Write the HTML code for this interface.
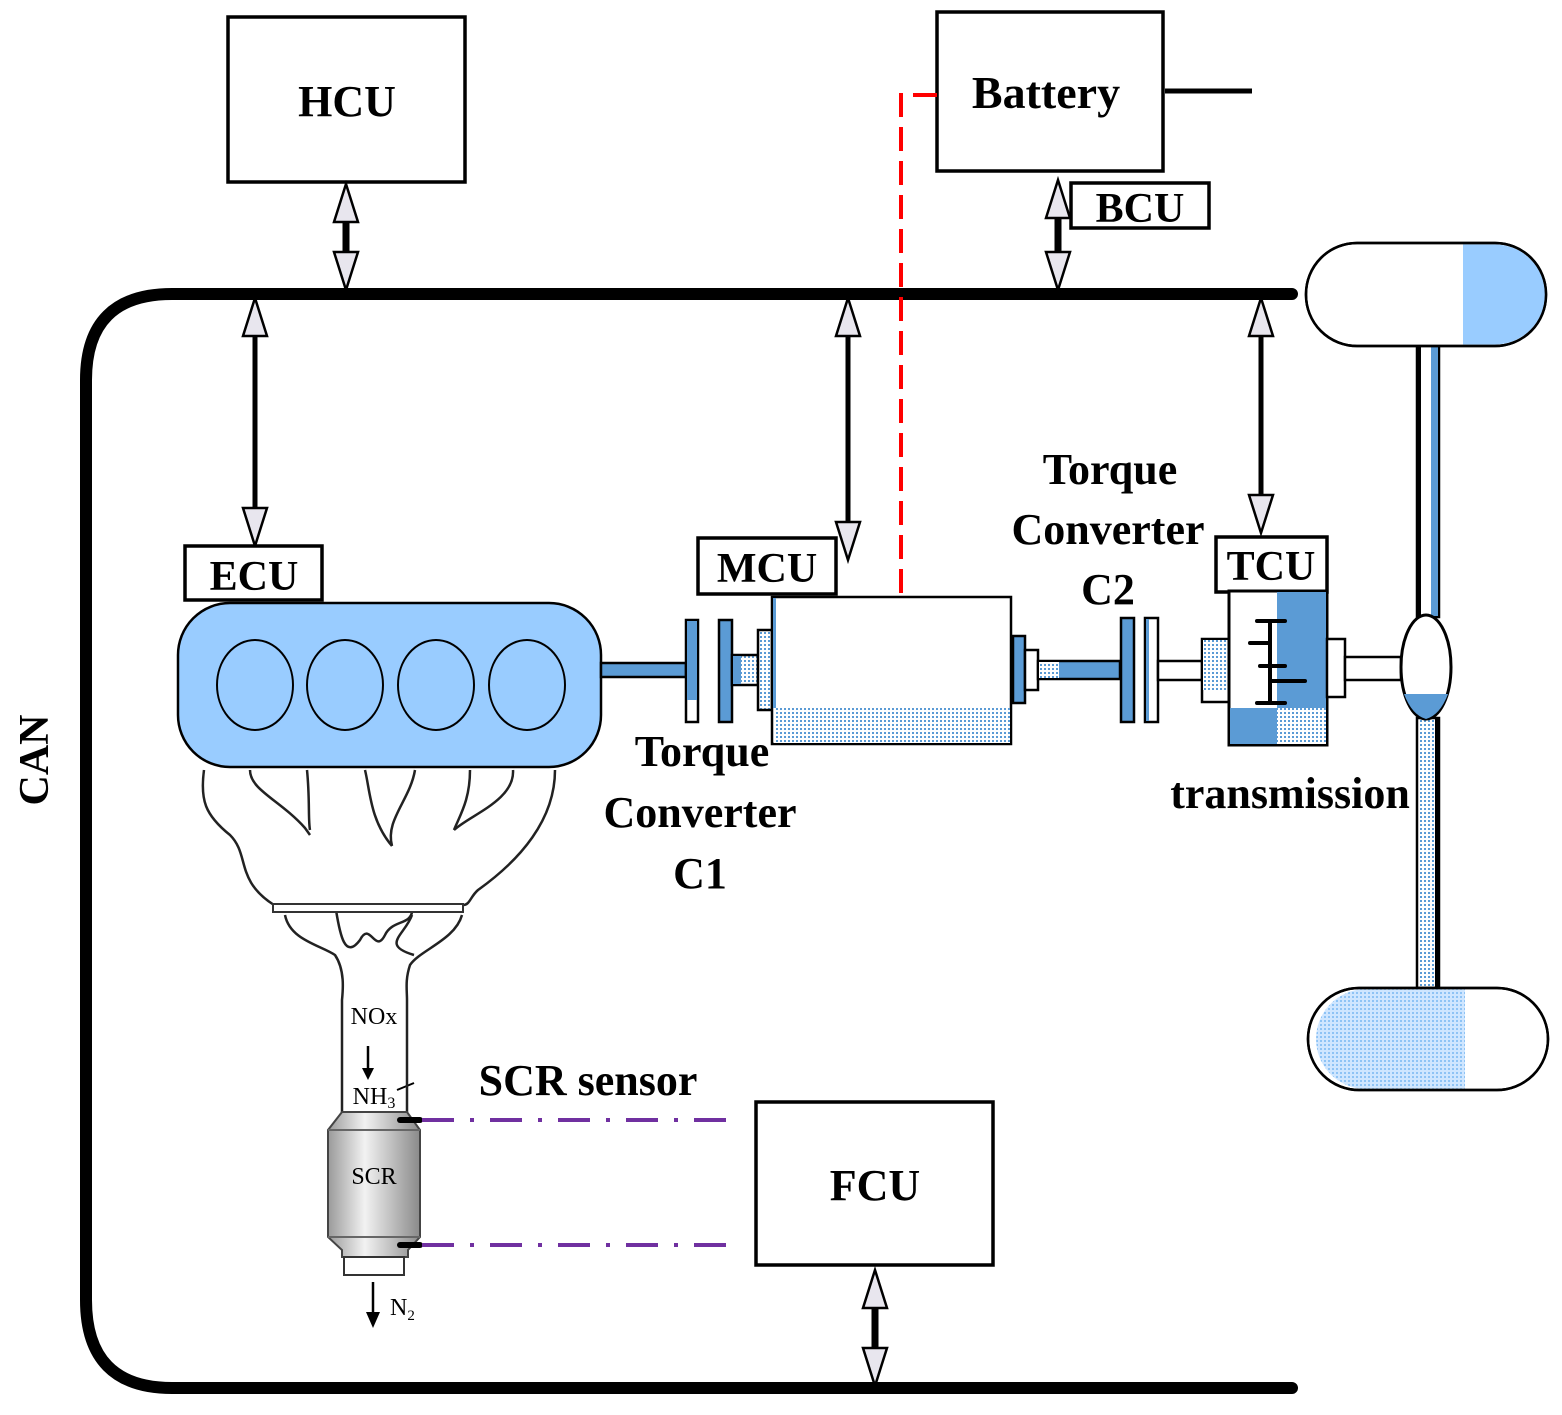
<!DOCTYPE html>
<html><head><meta charset="utf-8"><style>
html,body{margin:0;padding:0;background:#fff;}
svg{display:block;}
text{font-family:"Liberation Serif",serif;font-weight:bold;fill:#000;}
</style></head><body>
<svg width="1562" height="1415" viewBox="0 0 1562 1415" xmlns="http://www.w3.org/2000/svg">
<defs>
<pattern id="dot" width="4" height="4" patternUnits="userSpaceOnUse"><rect width="4" height="4" fill="#fff"/><rect width="2" height="2" fill="#5b9bd5"/></pattern>
<pattern id="dotl" width="4" height="4" patternUnits="userSpaceOnUse"><rect width="4" height="4" fill="#cfe6ff"/><rect width="2" height="2" fill="#8ec3f5"/></pattern>
<linearGradient id="scr" x1="0" x2="1"><stop offset="0" stop-color="#9a9a9a"/><stop offset="0.4" stop-color="#f2f2f2"/><stop offset="1" stop-color="#8a8a8a"/></linearGradient>
<g id="au"><polygon points="0,0 -12,38 12,38" fill="#e8e6ee" stroke="#000" stroke-width="2.5"/></g>
<g id="ad"><polygon points="0,0 -12,-38 12,-38" fill="#e8e6ee" stroke="#000" stroke-width="2.5"/></g>
</defs>

<!-- CAN bus -->
<path d="M1292,294 L172,294 Q86,294 86,380 L86,1300 Q86,1388 172,1388 L1292,1388" fill="none" stroke="#000" stroke-width="12" stroke-linecap="round"/>
<text x="48" y="760" font-size="42" transform="rotate(-90 48 760)" text-anchor="middle">CAN</text>

<!-- HCU -->
<rect x="228" y="17" width="237" height="165" fill="#fff" stroke="#000" stroke-width="3.5"/>
<text x="347" y="116" font-size="44" text-anchor="middle">HCU</text>
<line x1="346" y1="215" x2="346" y2="255" stroke="#000" stroke-width="7"/>
<use href="#au" x="346" y="184"/><use href="#ad" x="346" y="290"/>

<!-- Battery -->
<rect x="937" y="12" width="226" height="159" fill="#fff" stroke="#000" stroke-width="3.5"/>
<text x="1046" y="108" font-size="46" text-anchor="middle">Battery</text>
<line x1="1165" y1="91" x2="1252" y2="91" stroke="#000" stroke-width="5"/>
<path d="M937,95 L901,95 L901,600" fill="none" stroke="#f00" stroke-width="4" stroke-dasharray="24,10"/>
<rect x="1071" y="183" width="138" height="45" fill="#fff" stroke="#000" stroke-width="3.5"/>
<text x="1140" y="222" font-size="42" text-anchor="middle">BCU</text>
<line x1="1058" y1="215" x2="1058" y2="255" stroke="#000" stroke-width="7"/>
<use href="#au" x="1058" y="180"/><use href="#ad" x="1058" y="290"/>

<!-- ECU arrow and box -->
<line x1="255" y1="330" x2="255" y2="512" stroke="#000" stroke-width="5"/>
<use href="#au" x="255" y="298"/><use href="#ad" x="255" y="546"/>
<rect x="185" y="546" width="137" height="54" fill="#fff" stroke="#000" stroke-width="3.5"/>
<text x="254" y="590" font-size="42" text-anchor="middle">ECU</text>

<!-- MCU -->
<line x1="848" y1="330" x2="848" y2="525" stroke="#000" stroke-width="5"/>
<use href="#au" x="848" y="298"/><use href="#ad" x="848" y="560"/>
<rect x="698" y="538" width="138" height="56" fill="#fff" stroke="#000" stroke-width="3.5"/>
<text x="767" y="582" font-size="42" text-anchor="middle">MCU</text>

<!-- TCU -->
<line x1="1261" y1="330" x2="1261" y2="498" stroke="#000" stroke-width="5"/>
<use href="#au" x="1261" y="298"/><use href="#ad" x="1261" y="533"/>
<rect x="1216" y="537" width="111" height="55" fill="#fff" stroke="#000" stroke-width="3.5"/>
<text x="1271" y="580" font-size="42" text-anchor="middle">TCU</text>

<!-- FCU -->
<rect x="756" y="1102" width="237" height="163" fill="#fff" stroke="#000" stroke-width="3.5"/>
<text x="875" y="1200" font-size="44" text-anchor="middle">FCU</text>
<line x1="875" y1="1305" x2="875" y2="1350" stroke="#000" stroke-width="7"/>
<use href="#au" x="875" y="1270"/><use href="#ad" x="875" y="1386"/>

<!-- Engine -->
<rect x="178" y="603" width="423" height="164" rx="52" fill="#99ccff" stroke="#000" stroke-width="2.5"/>
<ellipse cx="255" cy="685" rx="38" ry="45" fill="none" stroke="#000" stroke-width="2"/>
<ellipse cx="345" cy="685" rx="38" ry="45" fill="none" stroke="#000" stroke-width="2"/>
<ellipse cx="436" cy="685" rx="38" ry="45" fill="none" stroke="#000" stroke-width="2"/>
<ellipse cx="527" cy="685" rx="38" ry="45" fill="none" stroke="#000" stroke-width="2"/>

<!-- Shaft & C1 -->
<rect x="601" y="663" width="85" height="14" fill="#5b9bd5" stroke="#000" stroke-width="2.5"/>
<rect x="686" y="620" width="12" height="102" fill="#fff" stroke="#000" stroke-width="2.5"/>
<rect x="687" y="621" width="10" height="79" fill="#5b9bd5"/>
<rect x="719" y="620" width="13" height="102" fill="#5b9bd5" stroke="#000" stroke-width="2.5"/>
<rect x="732" y="655" width="26" height="30" fill="url(#dot)" stroke="#000" stroke-width="2.5"/>
<rect x="733" y="656" width="8" height="28" fill="#5b9bd5"/>
<rect x="758" y="630" width="14" height="80" fill="url(#dot)" stroke="#000" stroke-width="2.5"/>

<!-- Motor -->
<rect x="772" y="597" width="239" height="147" fill="#fff" stroke="#000" stroke-width="2.5"/>
<rect x="773" y="598" width="3" height="110" fill="#5b9bd5"/>
<rect x="774" y="708" width="236" height="35" fill="url(#dot)"/>
<rect x="1013" y="636" width="12" height="67" fill="#5b9bd5" stroke="#000" stroke-width="2.5"/>
<rect x="1025" y="650" width="13" height="40" fill="#fff" stroke="#000" stroke-width="2.5"/>
<rect x="1038" y="661" width="82" height="18" fill="#5b9bd5" stroke="#000" stroke-width="2.5"/>
<rect x="1039" y="662" width="20" height="16" fill="url(#dot)"/>

<!-- C2 -->
<rect x="1121" y="618" width="13" height="104" fill="#5b9bd5" stroke="#000" stroke-width="2.5"/>
<rect x="1145" y="618" width="13" height="104" fill="#fff" stroke="#000" stroke-width="2.5"/>
<rect x="1146" y="619" width="3" height="102" fill="#5b9bd5"/>
<rect x="1158" y="661" width="44" height="19" fill="#fff" stroke="#000" stroke-width="2.5"/>
<rect x="1202" y="639" width="27" height="63" fill="#fff" stroke="#000" stroke-width="2.5"/>
<rect x="1203" y="640" width="25" height="50" fill="url(#dot)"/>

<!-- Transmission -->
<rect x="1229" y="591" width="98" height="154" fill="#fff" stroke="#000" stroke-width="3"/>
<rect x="1277" y="592" width="49" height="116" fill="#5b9bd5"/>
<rect x="1277" y="708" width="49" height="36" fill="url(#dot)"/>
<rect x="1230" y="708" width="47" height="36" fill="#5b9bd5"/>
<g stroke="#000" stroke-width="4" stroke-linecap="round">
<line x1="1270" y1="621" x2="1270" y2="703"/>
<line x1="1257" y1="621" x2="1285" y2="621"/>
<line x1="1250" y1="643" x2="1270" y2="643"/>
<line x1="1260" y1="666" x2="1285" y2="666"/>
<line x1="1270" y1="681" x2="1305" y2="681"/>
<line x1="1257" y1="703" x2="1285" y2="703"/>
</g>
<rect x="1327" y="639" width="18" height="58" fill="#fff" stroke="#000" stroke-width="2.5"/>
<rect x="1345" y="657" width="56" height="23" fill="#fff" stroke="#000" stroke-width="2.5"/>

<!-- Axles -->
<rect x="1417" y="345" width="22" height="272" fill="#fff" stroke="#000" stroke-width="2.5"/>
<rect x="1418" y="346" width="3" height="270" fill="#000"/>
<rect x="1431" y="346" width="7" height="270" fill="#5b9bd5"/>
<rect x="1417" y="718" width="22" height="270" fill="url(#dot)" stroke="#000" stroke-width="2.5"/>
<rect x="1435" y="718" width="4" height="270" fill="#000"/>
<ellipse cx="1426" cy="667" rx="25" ry="52" fill="#fff" stroke="#000" stroke-width="3"/>
<path d="M1404,694 L1448,694 Q1440,715 1426,719 Q1412,715 1404,694 Z" fill="#5b9bd5"/>

<!-- Wheels -->
<rect x="1306" y="243" width="240" height="103" rx="51" fill="#fff" stroke="#000" stroke-width="2.5"/>
<path d="M1463,244.5 L1495,244.5 A50,50 0 0 1 1495,344.5 L1463,344.5 Z" fill="#99ccff"/>
<rect x="1306" y="243" width="240" height="103" rx="51" fill="none" stroke="#000" stroke-width="2.5"/>
<rect x="1308" y="988" width="240" height="102" rx="51" fill="#fff" stroke="#000" stroke-width="2.5"/>
<path d="M1465,989.5 L1359,989.5 A50,50 0 0 0 1359,1088.5 L1465,1088.5 Z" fill="url(#dotl)"/>
<rect x="1308" y="988" width="240" height="102" rx="51" fill="none" stroke="#000" stroke-width="2.5"/>

<!-- Labels -->
<g font-size="44" text-anchor="middle">
<text x="702" y="766">Torque</text>
<text x="700" y="827">Converter</text>
<text x="700" y="888">C1</text>
<text x="1110" y="484">Torque</text>
<text x="1108" y="544">Converter</text>
<text x="1108" y="604">C2</text>
<text x="1290" y="808">transmission</text>
<text x="588" y="1095">SCR sensor</text>
</g>

<!-- Exhaust manifold -->
<g fill="none" stroke="#222" stroke-width="2.5">
<path d="M204,770 C200,800 205,815 230,835 C250,855 235,880 274,905"/>
<path d="M250,770 C250,790 280,800 305,828 L310,835"/>
<path d="M307,770 C310,800 308,820 310,830"/>
<path d="M365,770 C370,790 370,820 392,846"/>
<path d="M415,770 C410,800 385,820 392,846"/>
<path d="M470,770 C470,800 460,815 454,830"/>
<path d="M513,770 C515,800 470,815 454,830"/>
<path d="M555,770 C555,820 520,860 478,890 C470,897 470,905 463,905"/>
<path d="M285,915 C290,940 320,945 335,955 C345,970 343,990 342,1000 L342,1078"/>
<path d="M412,915 C405,935 380,945 414,955 M462,915 C455,940 420,950 410,965 C405,980 407,990 407,1000 L407,1078"/>
<path d="M336,910 C340,935 345,960 360,940 C370,920 375,955 385,935 C392,920 410,925 412,912"/>
</g>
<rect x="273" y="904" width="190" height="8" fill="#fff" stroke="#333" stroke-width="2"/>
<text x="374" y="1024" font-size="24" font-weight="normal" text-anchor="middle" style="font-weight:normal">NOx</text>
<line x1="368" y1="1046" x2="368" y2="1072" stroke="#000" stroke-width="2.5"/>
<polygon points="362,1068 374,1068 368,1080" fill="#000"/>
<text x="374" y="1104" font-size="24" text-anchor="middle" style="font-weight:normal">NH<tspan font-size="16" dy="4">3</tspan></text>
<line x1="397" y1="1090" x2="414" y2="1083" stroke="#000" stroke-width="2"/>
<line x1="342" y1="1078" x2="342" y2="1112" stroke="#222" stroke-width="2.5"/>
<line x1="407" y1="1078" x2="407" y2="1112" stroke="#222" stroke-width="2.5"/>
<!-- SCR can -->
<path d="M342,1112 L407,1112 L420,1130 L420,1237 L408,1250 L408,1257 L342,1257 L342,1250 L328,1237 L328,1130 Z" fill="url(#scr)" stroke="#444" stroke-width="2"/>
<line x1="328" y1="1130" x2="420" y2="1130" stroke="#666" stroke-width="2"/>
<line x1="328" y1="1237" x2="420" y2="1237" stroke="#666" stroke-width="2"/>
<rect x="344" y="1257" width="60" height="18" fill="#fff" stroke="#333" stroke-width="2"/>
<text x="374" y="1184" font-size="24" text-anchor="middle" style="font-weight:normal">SCR</text>
<line x1="373" y1="1282" x2="373" y2="1318" stroke="#000" stroke-width="2.5"/>
<polygon points="366,1312 380,1312 373,1328" fill="#000"/>
<text x="390" y="1315" font-size="24" style="font-weight:normal">N<tspan font-size="15" dy="5">2</tspan></text>

<!-- Sensor lines -->
<line x1="400" y1="1120" x2="420" y2="1120" stroke="#000" stroke-width="6" stroke-linecap="round"/>
<line x1="400" y1="1245" x2="420" y2="1245" stroke="#000" stroke-width="6" stroke-linecap="round"/>
<g stroke="#7030a0" stroke-width="4" stroke-dasharray="32,16,4,16">
<line x1="422" y1="1120" x2="732" y2="1120"/>
<line x1="422" y1="1245" x2="732" y2="1245"/>
</g>
</svg>
</body></html>
